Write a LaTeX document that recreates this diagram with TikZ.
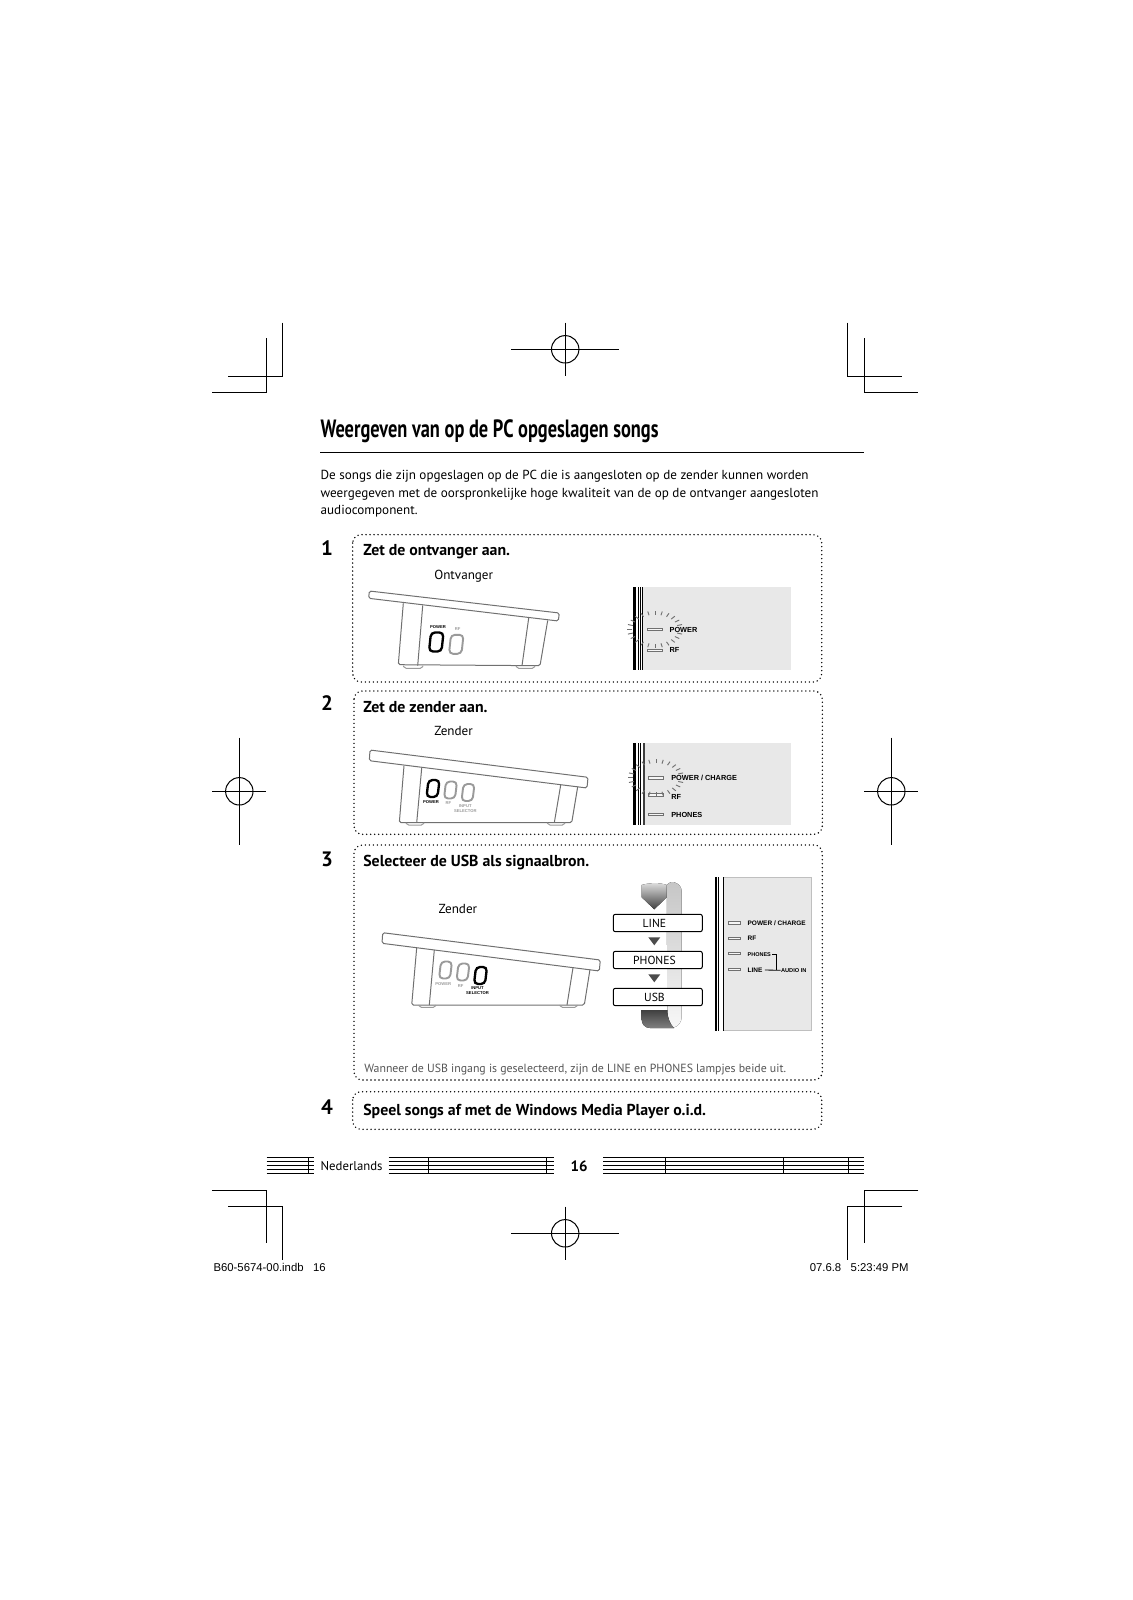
\documentclass[tikz,border=0pt]{standalone}
\usepackage{fontspec}
\setmainfont{PT Sans}
\newfontfamily\titlefont[FakeStretch=.735]{PT Sans}
\newfontfamily\printfont{Liberation Sans}
\usetikzlibrary{calc}
\definecolor{panelgray}{HTML}{E8E8E8}
\definecolor{bodygray}{HTML}{707070}
\definecolor{offgray}{HTML}{9A9A9A}
\definecolor{notegray}{HTML}{555555}

\begin{document}
\begin{tikzpicture}[
  x=.6pt, y=-.6pt,
  cropmark/.style={line width=.6pt, black},
  pagetext/.style={anchor=west, inner sep=0pt, font=\fontsize{7.87}{10}\selectfont},
  stepnum/.style={inner sep=0pt, font=\fontsize{12.5}{14}\selectfont\bfseries},
  stephead/.style={anchor=west, inner sep=0pt, font=\fontsize{9.5}{11}\selectfont\bfseries},
  stepbox/.style={line width=.95pt, line cap=round, dash pattern=on 0pt off 2.4pt, rounded corners=5pt},
  device/.style={line width=.6pt, bodygray, rounded corners=1pt},
  devlabel/.style={inner sep=0pt, align=center, font=\printfont\fontsize{2.5}{2.8}\selectfont\bfseries},
  panel/.style={fill=panelgray},
  led/.style={draw=bodygray, fill=panelgray!40, line width=.45pt},
  panellabel/.style={anchor=west, inner sep=0pt, font=\printfont\fontsize{4.4}{5}\selectfont\bfseries},
  swlabel/.style={panellabel, font=\printfont\fontsize{3.9}{5}\selectfont\bfseries},
  modebox/.style={draw=black, fill=white, line width=.6pt, rounded corners=1.2pt,
    minimum width=53.4pt, minimum height=10.4pt, inner sep=0pt,
    font=\fontsize{7}{8}\selectfont},
]
  \useasboundingbox (0,0) rectangle (1132,1600);

  % crop marks
  \draw[cropmark] (282.5,322.7) -- (282.5,376.3) -- (228.3,376.3);
  \draw[cropmark] (266.5,338.3) -- (266.5,392) -- (211.8,392);
  \draw[cropmark] (847.6,322.7) -- (847.6,376.3) -- (902.4,376.3);
  \draw[cropmark] (864.2,338.3) -- (864.2,392) -- (918.4,392);
  \draw[cropmark] (211.8,1190.3) -- (266.5,1190.3) -- (266.5,1243.3);
  \draw[cropmark] (228.3,1206.3) -- (282.5,1206.3) -- (282.5,1260);
  \draw[cropmark] (918.4,1190.3) -- (864.2,1190.3) -- (864.2,1243.3);
  \draw[cropmark] (902.4,1206.3) -- (847.6,1206.3) -- (847.6,1260);
  \foreach \cx/\cy/\hw/\hh in {565.2/349.3/54/26.8, 565.2/1233.3/54/26.8, 239.3/791.3/27/53.7, 891.3/791.3/27/53.7} {
    \draw[cropmark] (\cx-\hw,\cy) -- (\cx+\hw,\cy);
    \draw[cropmark] (\cx,\cy-\hh) -- (\cx,\cy+\hh);
    \draw[cropmark] (\cx,\cy) circle[radius=13.7];
  }

  % heading and intro
  \node[anchor=west, inner sep=0pt, font=\titlefont\fontsize{15}{17}\selectfont\bfseries]
    (title) at (320.3,431) {Weergeven van op de PC opgeslagen songs};
  \draw[line width=.6pt] (320.3,452.3) -- (864.2,452.3);
  \node[pagetext] (introa) at (320.3,476.6) {De songs die zijn opgeslagen op de PC die is aangesloten op de zender kunnen worden};
  \node[pagetext] (introb) at (320.3,494) {weergegeven met de oorspronkelijke hoge kwaliteit van de op de ontvanger aangesloten};
  \node[pagetext] (introc) at (320.3,511.5) {audiocomponent.};

  % step frames
  \draw[stepbox] (352.7,534.7) rectangle (821.7,682);
  \draw[stepbox] (354,691) rectangle (822.3,834.3);
  \draw[stepbox] (354,845) rectangle (822.3,1080);
  \draw[stepbox] (352.7,1091.7) rectangle (821.7,1129.3);
  \node[stepnum] (numa) at (327,548) {1};
  \node[stepnum] (numb) at (327,703) {2};
  \node[stepnum] (numc) at (327,859) {3};
  \node[stepnum] (numd) at (327,1107.5) {4};
  \node[stephead] (heada) at (363,551.5) {Zet de ontvanger aan.};
  \node[stephead] (headb) at (363,707) {Zet de zender aan.};
  \node[stephead] (headc) at (363,862.7) {Selecteer de USB als signaalbron.};
  \node[stephead] (headd) at (363,1111.5) {Speel songs af met de Windows Media Player o.i.d.};
  \node[pagetext] (ontvanger) at (434,576) {Ontvanger};
  \node[pagetext] (zendera) at (434,731) {Zender};
  \node[pagetext] (zenderb) at (438.3,908.7) {Zender};
  \node[pagetext, text=notegray, font=\fontsize{7.1}{9}\selectfont] (note) at (364,1070)
    {Wanneer de USB ingang is geselecteerd, zijn de LINE en PHONES lampjes beide uit.};

  % receiver
  \draw[device] (369.3,591) -- (559.3,613) -- (558.3,621) -- (368.7,598.3) -- cycle;
  \draw[device] (403.3,603.3) -- (398.3,664.7) -- (540,665.7) -- (547.7,620.5);
  \draw[device] (422.7,605.5) -- (417.7,665.7);
  \draw[device] (528.7,618) -- (522,665.7);
  \draw[device, offgray] (403.3,665.7) -- (404.5,668.3) -- (422,668.3) -- (423,665.7);
  \draw[device, offgray] (516,665.7) -- (517,668.3) -- (534,668.3) -- (535,665.7);
  \foreach \dx/\dy/\dcol/\dw in {429/632.5/black/1.4pt, 449/634.8/offgray/1.15pt} {
    \draw[\dcol, line width=\dw, rounded corners=2.4pt]
      (\dx+2,\dy) -- (\dx+14.5,\dy) -- (\dx+12.5,\dy+19) -- (\dx,\dy+19) -- cycle;
  }
  \node[devlabel] (rxpower) at (438,627.5) {POWER};
  \node[devlabel, text=offgray] (rxrf) at (457.7,629.5) {RF};

  % transmitter, step 2
  \draw[device] (370,750) -- (588,777.3) -- (587,788) -- (369.3,760.7) -- cycle;
  \draw[device] (404,765.7) -- (399.3,822.7) -- (571.7,822.7) -- (577.7,786.7);
  \draw[device] (421.7,768) -- (416.7,822.7);
  \draw[device] (560.7,785) -- (554.3,822.7);
  \draw[device, offgray] (406,822.7) -- (407,825) -- (423,825) -- (424,822.7);
  \draw[device, offgray] (547.3,822.7) -- (548.3,825) -- (564,825) -- (565,822.7);
  \foreach \dx/\dy/\dcol/\dw in {426.5/780/black/1.4pt, 444/781.5/offgray/1.15pt, 461.5/784/offgray/1.15pt} {
    \draw[\dcol, line width=\dw, rounded corners=2.4pt]
      (\dx+2,\dy) -- (\dx+13,\dy) -- (\dx+11,\dy+17) -- (\dx,\dy+17) -- cycle;
  }
  \node[devlabel] (txpower) at (431,801.7) {POWER};
  \node[devlabel, text=offgray] (txrf) at (448.3,803.3) {RF};
  \node[devlabel, text=offgray] (txinput) at (465.3,808.5) {INPUT\\SELECTOR};

  % transmitter, step 3
  \draw[device] (382.7,932.7) -- (600.3,960) -- (599.3,971) -- (382,943.3) -- cycle;
  \draw[device] (416.7,947.7) -- (411.7,1005) -- (584.3,1005) -- (590,969.3);
  \draw[device] (434.3,950) -- (429.3,1005);
  \draw[device] (573,967.7) -- (567,1005);
  \draw[device, offgray] (418.7,1005) -- (419.7,1007.3) -- (435,1007.3) -- (436,1005);
  \draw[device, offgray] (559.7,1005) -- (560.7,1007.3) -- (576.5,1007.3) -- (577.5,1005);
  \foreach \dx/\dy/\dcol/\dw in {439/961.5/offgray/1.15pt, 456.5/963.5/offgray/1.15pt, 474/967/black/1.4pt} {
    \draw[\dcol, line width=\dw, rounded corners=2.4pt]
      (\dx+2,\dy) -- (\dx+13,\dy) -- (\dx+11,\dy+17) -- (\dx,\dy+17) -- cycle;
  }
  \node[devlabel, text=offgray] (swpower) at (443.3,984) {POWER};
  \node[devlabel, text=offgray] (swrf) at (460.7,985.7) {RF};
  \node[devlabel] (swinput) at (477.5,990.7) {INPUT\\SELECTOR};

  % lamp panels
  \fill[panel] (642,587.3) rectangle (790.7,670);
  \fill[black] (633.3,587.3) rectangle (636.3,670);
  \foreach \x in {637.7,639.7,641.7} \fill (\x,587.3) rectangle +(1,82.7);
  \fill[panel] (644,743.3) rectangle (790.7,825.3);
  \fill[black] (633.3,743.3) rectangle (636.3,825.3);
  \foreach \x in {637.7,640.3} \fill (\x,743.3) rectangle +(1,82);
  \fill[black!75] (643.3,743.3) rectangle +(1.5,82);
  \fill[panel, draw=gray!50, line width=.3pt] (723.5,877.3) rectangle (811,1030.7);
  \fill[black] (715,877.3) rectangle (716.7,1030.7);
  \fill[black] (717.7,877.3) rectangle (719.3,1030.7);
  \fill[black] (722.7,877.3) rectangle (723.8,1030.7);

  \foreach \lx/\ly in {647.3/628, 647.3/649, 648.3/776.3, 648.3/793.7, 648.3/813} {
    \draw[led] (\lx,\ly) rectangle +(15.4,2.7);
  }
  \foreach \ly in {921.7, 937, 952.3, 968.3} {
    \draw[led] (728.3,\ly) rectangle +(12.4,2.4);
  }
  % flashing lamp
  \foreach \cx/\cy in {655/629.3, 656/777.7} {
    \foreach \a in {15,30,...,345} {
      \draw[bodygray, line width=.55pt]
        ($(\cx,\cy)+(\a:23 and 14.5)$) -- ($(\cx,\cy)+(\a:28 and 18.5)$);
    }
  }
  \node[panellabel] (rxlampa) at (669.3,629.7) {POWER};
  \node[panellabel] (rxlampb) at (669.3,650.3) {RF};
  \node[panellabel] (txlampa) at (671,778.3) {POWER / CHARGE};
  \node[panellabel] (txlampb) at (671,796.7) {RF};
  \node[panellabel] (txlampc) at (671,815) {PHONES};
  \node[swlabel] (swlampa) at (747.3,923.3) {POWER / CHARGE};
  \node[swlabel] (swlampb) at (747.3,938.7) {RF};
  \node[swlabel, font=\printfont\fontsize{3.3}{5}\selectfont\bfseries] (swlampc) at (747.3,954.3) {PHONES};
  \node[swlabel] (swlampd) at (747.3,970) {LINE};
  \node[swlabel, font=\printfont\fontsize{3.4}{5}\selectfont\bfseries] (audioin) at (780.7,970.3) {AUDIO IN};
  \coordinate (audiojoin) at (776.3,970.3);
  \draw[line width=.5pt] (swlampc.east) ++(1,0) -| (audiojoin);
  \draw[line width=.5pt] (swlampd.east) ++(2,0) -- (audioin.west);

  % selector ribbon
  \fill[top color=gray!45, middle color=gray!55, bottom color=gray!6]
    (666.7,885) .. controls (669,882) and (673,881.5) .. (675,882.5)
    .. controls (679,884) and (681.7,887) .. (681.7,892) -- (681.7,1016.7)
    .. controls (681.7,1022) and (678,1027) .. (673.3,1027.5)
    .. controls (670,1024) and (667.3,1018) .. (667.3,1009) -- cycle;
  \fill[top color=gray!25, bottom color=black!75]
    (641.7,885) .. controls (650,882.5) and (660,882.5) .. (666.7,885)
    -- (666.7,897.3) -- (654.3,909.3) -- (641.7,897.3) -- cycle;
  \fill[top color=black!75, bottom color=black!50]
    (641.7,1010) -- (667.3,1010) .. controls (667.3,1018) and (670,1024) .. (674,1028)
    -- (650,1028) .. controls (645,1028) and (641.7,1024) .. (641.7,1020) -- cycle;
  \foreach \ty in {937.3, 974.3} {
    \fill[black!70] (648.3,\ty) -- (660.3,\ty) -- (654.3,\ty+8) -- cycle;
  }
  \node[modebox] (modeline) at (657.8,923) {LINE\kern4pt};
  \node[modebox] (modephones) at (657.8,960) {PHONES\kern4pt};
  \node[modebox] (modeusb) at (657.8,997) {USB\kern4pt};

  % footer
  \foreach \y in {1157.3,1161.3,...,1173.4} {
    \draw[line width=.5pt] (266.5,\y) -- (314,\y);
    \draw[line width=.5pt] (388.7,\y) -- (554.2,\y);
    \draw[line width=.5pt] (603.3,\y) -- (864.2,\y);
  }
  \foreach \x in {308.5,428.3,546.7,665,783,848.6} {
    \draw[line width=.5pt] (\x,1157.3) -- (\x,1173.3);
  }
  \node[pagetext, font=\fontsize{7.65}{10}\selectfont] (language) at (320.3,1165.7) {Nederlands};
  \node[inner sep=0pt, font=\fontsize{9}{10}\selectfont\bfseries] (pagenum) at (579,1166) {16};
  \node[pagetext, font=\printfont\fontsize{6.8}{8}\selectfont] (slugleft) at (213.2,1267.3) {B60-5674-00.indb\ \ \ 16};
  \node[pagetext, anchor=east, font=\printfont\fontsize{6.8}{8}\selectfont] (slugright) at (909,1267.3) {07.6.8\ \ \ 5:23:49 PM};
\end{tikzpicture}
\end{document}
